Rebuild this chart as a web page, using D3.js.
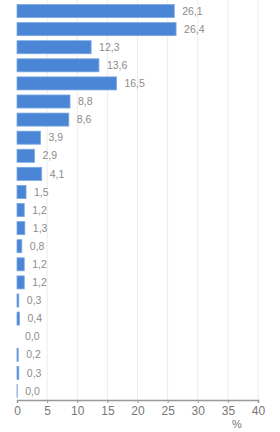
<!DOCTYPE html>
<html>
<head>
<meta charset="utf-8">
<script src="https://cdn.jsdelivr.net/npm/d3@7"></script>
<style>
  html, body { margin: 0; padding: 0; background: #fff; }
  svg { display: block; font-family: "Liberation Sans", Arial, sans-serif; }
</style>
</head>
<body>
<svg id="chart"></svg>
<script>
// rows top to bottom
const categories = ["r1","r2","r3","r4","r5","r6","r7","r8","r9","r10","r11",
                    "r12","r13","r14","r15","r16","r17","r18","r19","r20","r21","r22"];
const values = [26.1, 26.4, 12.3, 13.6, 16.5, 8.8, 8.6, 3.9, 2.9, 4.1, 1.5,
                1.2, 1.3, 0.8, 1.2, 1.2, 0.3, 0.4, 0.0, 0.2, 0.3, 0.04];
const xTicks = [0, 5, 10, 15, 20, 25, 30, 35, 40];
const unitLabel = "%";

const W = 280, H = 432;
const margin = { top: 2, right: 22, bottom: 32, left: 17 };

const svg = d3.select("#chart").attr("width", W).attr("height", H);

const x = d3.scaleLinear().domain([0, 40]).range([margin.left, W - margin.right]);
const y = d3.scaleBand().domain(categories)
  .range([margin.top, H - margin.bottom]).paddingInner(0.28).paddingOuter(0.14);

const fmt = v => d3.format(".1f")(v).replace(".", ",");

// grid
svg.append("g")
  .selectAll("line")
  .data(xTicks.slice(1))
  .join("line")
  .attr("x1", d => x(d)).attr("x2", d => x(d))
  .attr("y1", 0).attr("y2", H - margin.bottom)
  .attr("stroke", "#ececec")
  .attr("stroke-width", 1);

// bars
svg.append("g")
  .selectAll("rect")
  .data(values)
  .join("rect")
  .attr("x", x(0))
  .attr("y", (d, i) => y(categories[i]))
  .attr("width", d => Math.max(0, x(d) - x(0)))
  .attr("height", y.bandwidth())
  .attr("fill", "#4a86d5")
  .attr("stroke", d => d > 0 ? "#7aa7e2" : "none")
  .attr("stroke-width", 0.8);

// value labels
svg.append("g")
  .selectAll("text")
  .data(values)
  .join("text")
  .attr("x", d => x(d) + 8)
  .attr("y", (d, i) => y(categories[i]) + y.bandwidth() / 2)
  .attr("dy", "0.35em")
  .attr("fill", "#8c8c8c")
  .attr("font-size", "10.5px")
  .text(d => fmt(d));

// x axis
const axis = svg.append("g")
  .attr("transform", `translate(0,${H - margin.bottom})`)
  .call(d3.axisBottom(x).tickValues(xTicks).tickSize(3).tickPadding(3));
axis.select(".domain").attr("stroke", "#999").attr("stroke-width", 1.5);
axis.selectAll(".tick line").attr("stroke", "#999");
axis.selectAll(".tick text").attr("fill", "#777").attr("font-size", "12px")
  .attr("font-family", "'Liberation Sans', Arial, sans-serif");

svg.append("text")
  .attr("x", x(35) + 9)
  .attr("y", H - 4)
  .attr("text-anchor", "middle")
  .attr("fill", "#777")
  .attr("font-size", "11px")
  .text(unitLabel);
</script>
</body>
</html>
